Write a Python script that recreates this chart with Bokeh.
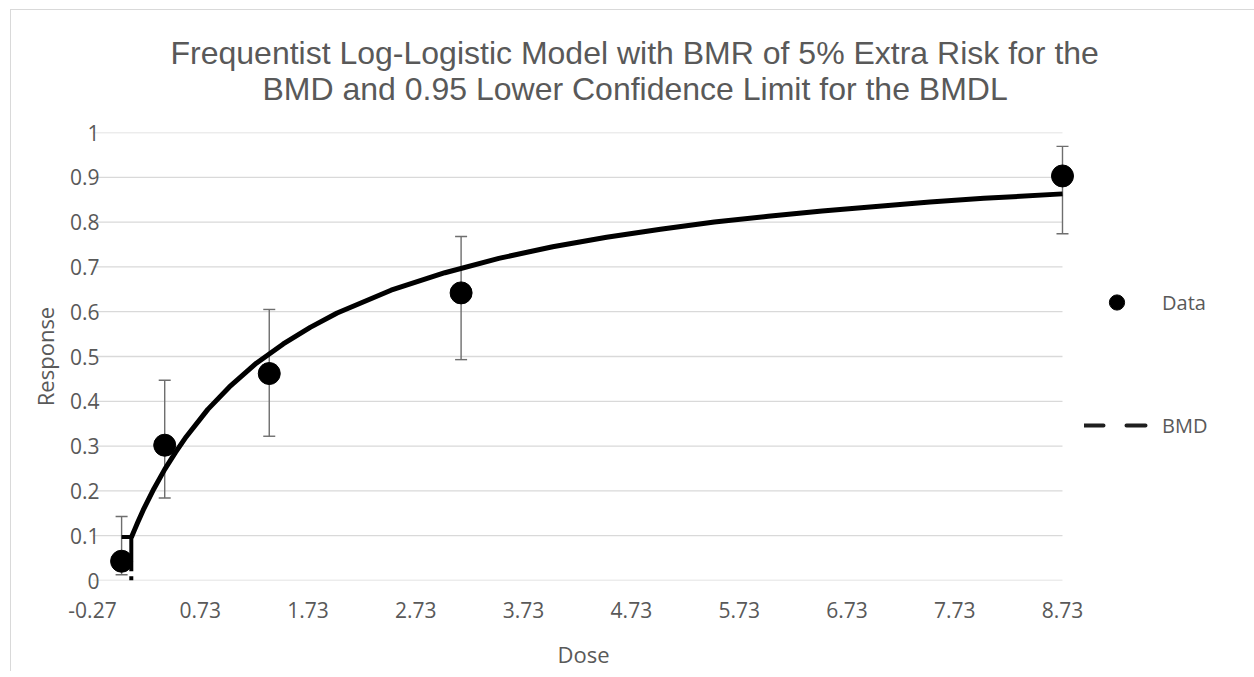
from bokeh.plotting import figure
from bokeh.models import Range1d, FixedTicker, Legend, LegendItem, Title
from bokeh.embed import file_html
from bokeh.resources import INLINE

# ---- data ----
doses = [0.0, 0.4, 1.37, 3.15, 8.73]
responses = [0.043, 0.302, 0.462, 0.642, 0.903]
err_lower = [0.013, 0.184, 0.322, 0.493, 0.774]
err_upper = [0.143, 0.447, 0.605, 0.768, 0.969]

curve_dose = [0.09, 0.12, 0.15, 0.2, 0.3, 0.4, 0.5, 0.6, 0.8, 1.0, 1.25, 1.5,
              1.75, 2.0, 2.5, 3.0, 3.5, 4.0, 4.5, 5.0, 5.5, 6.0, 6.5, 7.0,
              7.5, 8.0, 8.73]
curve_resp = [0.096, 0.113, 0.130, 0.157, 0.205, 0.248, 0.286, 0.321, 0.382,
              0.432, 0.485, 0.528, 0.565, 0.597, 0.648, 0.687, 0.719, 0.745,
              0.766, 0.784, 0.800, 0.813, 0.825, 0.835, 0.845, 0.853, 0.863]

bmd_dose = [0.0, 0.09, 0.09]
bmd_resp = [0.097, 0.097, 0.0]

x_ticks = [-0.27, 0.73, 1.73, 2.73, 3.73, 4.73, 5.73, 6.73, 7.73, 8.73]
x_tick_labels = ["-0.27", "0.73", "1.73", "2.73", "3.73", "4.73", "5.73",
                 "6.73", "7.73", "8.73"]
y_ticks = [0, 0.1, 0.2, 0.3, 0.4, 0.5, 0.6, 0.7, 0.8, 0.9, 1]
y_tick_labels = ["0", "0.1", "0.2", "0.3", "0.4", "0.5", "0.6", "0.7", "0.8",
                 "0.9", "1"]

title_lines = ["Frequentist Log-Logistic Model with BMR of 5% Extra Risk for the",
               "BMD and 0.95 Lower Confidence Limit for the BMDL"]

TXT = "#595959"
GRID = "#d9d9d9"
ERR = "#6e6e6e"

p = figure(frame_width=982, frame_height=448,
           min_border_left=81, min_border_right=165,
           min_border_top=122, min_border_bottom=88,
           x_range=Range1d(-0.27, 8.8414), y_range=Range1d(0, 1),
           output_backend="svg", toolbar_location=None, title=None)
p.styles = {"margin-left": "10px", "margin-top": "9px",
            "border-left": "1px solid #d9d9d9", "border-top": "1px solid #d9d9d9"}
p.outline_line_color = None
p.xgrid.visible = False
p.ygrid.visible = False

# horizontal gridlines limited to the axis span
p.segment(x0=[x_ticks[0]] * len(y_ticks), x1=[x_ticks[-1]] * len(y_ticks),
          y0=y_ticks, y1=y_ticks, line_color=GRID, line_width=1.3)

# error bars
p.segment(x0=doses, x1=doses, y0=err_lower, y1=err_upper,
          line_color=ERR, line_width=1.4)
p.scatter(doses, err_upper, marker="dash", size=12, line_color=ERR, line_width=1.4)
p.scatter(doses, err_lower, marker="dash", size=12, line_color=ERR, line_width=1.4)

r_dots = p.scatter(doses, responses, size=22, fill_color="black", line_color="black")
p.line(curve_dose, curve_resp, line_color="black", line_width=5, line_join="round")
p.line(bmd_dose, bmd_resp, line_color="black", line_width=4, line_dash="44 5")
r_bmd_leg = p.line(bmd_dose, bmd_resp, line_color="#1f1f1f", line_width=4,
                   line_dash="19 23", line_cap="round", visible=False)

for ax in (p.xaxis[0], p.yaxis[0]):
    ax.axis_line_color = None
    ax.major_tick_line_color = None
    ax.minor_tick_line_color = None
    ax.major_tick_in = 0
    ax.major_tick_out = 0
    ax.major_label_text_font = "Open Sans"
    ax.major_label_text_font_size = "21px"
    ax.major_label_text_color = TXT
    ax.axis_label_text_font = "Open Sans"
    ax.axis_label_text_font_size = "22px"
    ax.axis_label_text_font_style = "normal"
    ax.axis_label_text_color = TXT

p.xaxis.ticker = FixedTicker(ticks=x_ticks)
p.xaxis.major_label_overrides = dict(zip(x_ticks, x_tick_labels))
p.yaxis.ticker = FixedTicker(ticks=y_ticks)
p.yaxis.major_label_overrides = dict(zip(y_ticks, y_tick_labels))
p.xaxis.axis_label = "Dose"
p.yaxis.axis_label = "Response"
p.xaxis.major_label_standoff = 21
p.xaxis.axis_label_standoff = 18
p.yaxis.major_label_standoff = -7
p.yaxis.axis_label_standoff = 7

# title: two lines stacked above the frame, each centred near x=635
p.add_layout(Title(text=title_lines[1], align="left", offset=170,
                   text_font="Liberation Sans", text_font_size="32px",
                   text_font_style="normal", text_color=TXT, standoff=52), "above")
p.add_layout(Title(text=title_lines[0], align="left", offset=78,
                   text_font="Liberation Sans", text_font_size="32px",
                   text_font_style="normal", text_color=TXT, standoff=-56), "above")

legend = Legend(items=[LegendItem(label="Data", renderers=[r_dots]),
                       LegendItem(label="BMD", renderers=[r_bmd_leg])],
                location=(10, 136), orientation="vertical",
                glyph_width=65, glyph_height=38, label_height=38,
                label_standoff=13, spacing=85, padding=0, margin=0,
                border_line_color=None, background_fill_alpha=0,
                label_text_font="Open Sans", label_text_font_size="20px",
                label_text_color=TXT, inactive_fill_alpha=0)
p.add_layout(legend, "right")

open("out.html", "w").write(file_html(p, INLINE))
